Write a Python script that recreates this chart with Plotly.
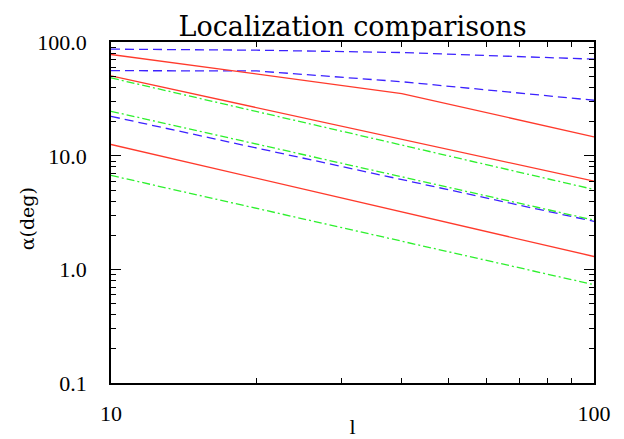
import plotly.graph_objects as go

# ---- data ----
l_kink = [10, 40, 100]
red1 = [78.2, 35.4, 14.7]
l_ends = [10, 100]
red2 = [50.6, 6.0]
red3 = [12.6, 1.30]
l_curve = [10, 20, 40, 100]
blue1 = [87.1, 85.3, 81.3, 71.1]
blue2 = [56.3, 56.0, 45.0, 30.9]
blue3 = [22.3, 2.65]
green1 = [48.6, 5.06]
green2 = [24.7, 2.72]
green3 = [6.73, 0.734]

x_ticks = [10, 100]
x_ticktext = ["10", "100"]
x_minor = [20, 30, 40, 50, 60, 70, 80, 90]
y_ticks = [0.1, 1, 10, 100]
y_ticktext = ["0.1", "1.0", "10.0", "100.0"]
y_minor = [m * d for d in (0.1, 1, 10) for m in range(2, 10)]

RED = "#ff3a2c"
BLUE = "#3c22ff"
GREEN = "#2ef02e"
BLUE_DASH = "9px,5px"
GREEN_DASH = "8px,3px,2px,3px"

series = [
    (l_curve, blue1, BLUE, BLUE_DASH),
    (l_curve, blue2, BLUE, BLUE_DASH),
    (l_ends, blue3, BLUE, BLUE_DASH),
    (l_ends, green1, GREEN, GREEN_DASH),
    (l_ends, green2, GREEN, GREEN_DASH),
    (l_ends, green3, GREEN, GREEN_DASH),
    (l_kink, red1, RED, "solid"),
    (l_ends, red2, RED, "solid"),
    (l_ends, red3, RED, "solid"),
]

fig = go.Figure()
for xs, ys, col, dash in series:
    fig.add_trace(go.Scatter(x=xs, y=ys, mode="lines",
                             line=dict(color=col, width=1.3, dash=dash),
                             showlegend=False))

tick_font = dict(family="Liberation Serif", size=22, color="black")

fig.update_layout(
    width=624, height=439,
    margin=dict(l=111, r=30, t=42, b=56, autoexpand=False),
    paper_bgcolor="white", plot_bgcolor="white",
    title=dict(text="Localization comparisons", x=0.5, xref="paper",
               y=0.94, yref="container", yanchor="middle",
               font=dict(family="DejaVu Serif", size=27, color="black")),
    xaxis=dict(type="log", range=[1, 2], showgrid=False, zeroline=False,
               automargin=False,
               showline=True, linecolor="black", linewidth=1.5, mirror="ticks",
               ticks="inside", ticklen=9, tickwidth=1, tickcolor="black",
               tickmode="array", tickvals=x_ticks, ticktext=x_ticktext,
               tickfont=tick_font, ticklabelstandoff=10,
               minor=dict(tickmode="array", tickvals=x_minor, ticks="inside",
                          ticklen=5, tickcolor="black", showgrid=False),
               title=dict(text="l", standoff=0,
                          font=dict(family="Liberation Serif", size=22, color="black"))),
    yaxis=dict(type="log", range=[-1, 2.003], showgrid=False, zeroline=False,
               automargin=False,
               showline=True, linecolor="black", linewidth=1.5, mirror="ticks",
               ticks="inside", ticklen=10, tickwidth=1, tickcolor="black",
               tickmode="array", tickvals=y_ticks, ticktext=y_ticktext,
               tickfont=tick_font, ticklabelstandoff=18,
               minor=dict(tickmode="array", tickvals=y_minor, ticks="inside",
                          ticklen=5, tickcolor="black", showgrid=False)),
    annotations=[dict(text="α(deg)", textangle=-90, showarrow=False,
                      xref="paper", yref="paper",
                      x=(27 - 111) / 483, y=0.48,
                      xanchor="center", yanchor="middle",
                      font=dict(family="DejaVu Serif", size=19, color="black"))],
)

fig.write_html("out.html")
